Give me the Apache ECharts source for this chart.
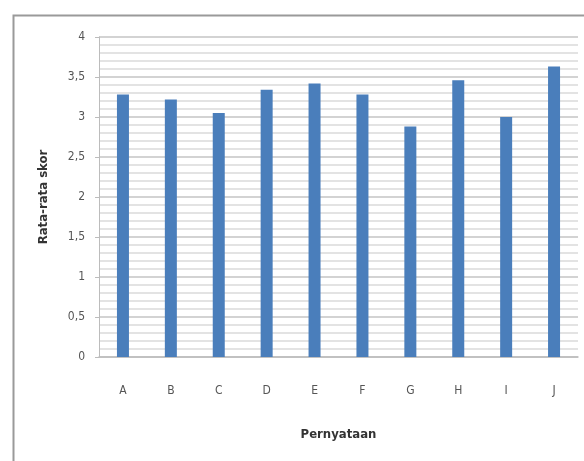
<!DOCTYPE html>
<html>
<head>
<meta charset="utf-8">
<script src="https://cdn.jsdelivr.net/npm/echarts@6/dist/echarts.min.js"></script>
<style>
  html, body { margin: 0; padding: 0; background: #ffffff; }
  #chart { width: 584px; height: 461px; }
</style>
</head>
<body>
<div id="chart"></div>
<script>
// Statements on the category axis and their mean scores
const categories = ['A', 'B', 'C', 'D', 'E', 'F', 'G', 'H', 'I', 'J'];
const meanScores = [3.28, 3.22, 3.05, 3.34, 3.42, 3.28, 2.88, 3.46, 3.0, 3.63];

const chart = echarts.init(document.getElementById('chart'));
const labelFont = "'Liberation Sans Narrow', 'DejaVu Sans Condensed', 'Liberation Sans', sans-serif";

chart.setOption({
  animation: false,
  backgroundColor: '#ffffff',
  graphic: [{
    type: 'rect',
    left: 11, top: 13,
    shape: { width: 620, height: 500 },
    style: { fill: 'none', stroke: '#9a9a9a', lineWidth: 2 },
    silent: true
  }],
  grid: { left: 99, right: 6, top: 37, bottom: 104, containLabel: false },
  xAxis: {
    type: 'category',
    data: categories,
    name: 'Pernyataan',
    nameLocation: 'middle',
    nameGap: 71,
    nameTextStyle: { fontFamily: labelFont, fontSize: 13, fontWeight: 'bold', color: '#333333' },
    axisLine: { lineStyle: { color: '#bcbcbc', width: 1.5 } },
    axisTick: { show: false },
    axisLabel: { margin: 28, fontFamily: labelFont, fontSize: 12, color: '#555555' }
  },
  yAxis: {
    type: 'value',
    min: 0, max: 4, interval: 0.5,
    name: 'Rata-rata skor',
    nameLocation: 'middle',
    nameGap: 49,
    nameTextStyle: { fontFamily: labelFont, fontSize: 13, fontWeight: 'bold', color: '#333333' },
    axisLine: { show: true, lineStyle: { color: '#bcbcbc' } },
    axisTick: { show: true, length: 4, lineStyle: { color: '#bcbcbc' } },
    axisLabel: {
      margin: 14,
      fontFamily: labelFont, fontSize: 12, color: '#555555',
      formatter: v => String(v).replace('.', ',')
    },
    splitLine: { lineStyle: { color: '#c4c4c4', width: 1.5 } },
    minorTick: { show: false, splitNumber: 5 },
    minorSplitLine: { show: true, lineStyle: { color: '#dadada', width: 1.5 } }
  },
  series: [{
    type: 'bar',
    data: meanScores,
    barWidth: 12,
    itemStyle: { color: '#4a7ebb' }
  }]
});
</script>
</body>
</html>
